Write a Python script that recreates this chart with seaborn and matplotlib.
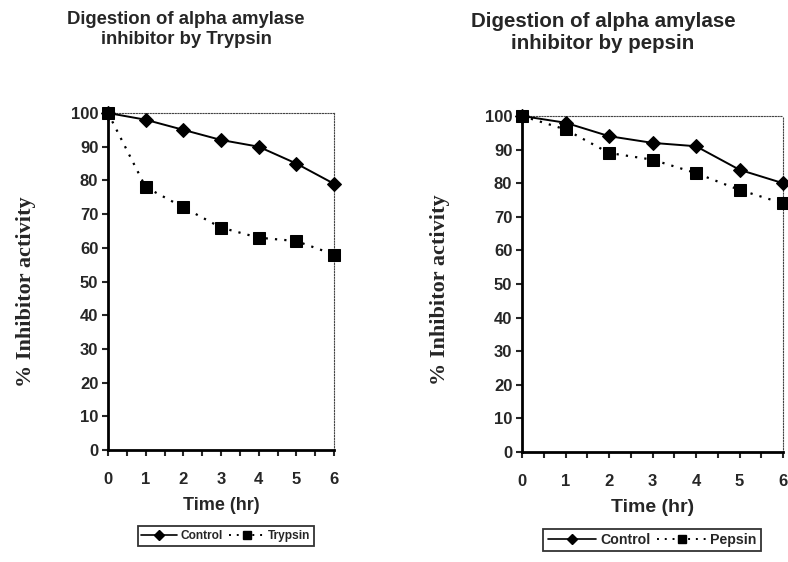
import matplotlib
matplotlib.use("Agg")
import matplotlib.pyplot as plt
import seaborn as sns
import pandas as pd
from matplotlib.ticker import MultipleLocator

sns.set_style("white")
plt.rcParams["font.family"] = ["Liberation Sans", "DejaVu Sans"]

time_hr = [0, 1, 2, 3, 4, 5, 6]

trypsin_control = [100, 98, 95, 92, 90, 85, 79]
trypsin_treated = [100, 78, 72, 66, 63, 62, 58]

pepsin_control = [100, 98, 94, 92, 91, 84, 80]
pepsin_treated = [100, 96, 89, 87, 83, 78, 74]

panels = [
    ("Digestion of alpha amylase\ninhibitor by Trypsin", "Trypsin", trypsin_control, trypsin_treated),
    ("Digestion of alpha amylase\ninhibitor by pepsin", "Pepsin", pepsin_control, pepsin_treated),
]

W, H = 788, 562
fig = plt.figure(figsize=(W / 100, H / 100), dpi=100)

# per-panel layout (pixel coordinates from the top-left corner)
layout = [
    dict(ax=(108, 113, 334, 450), title=(186, 11, 13.3), ylab=(26, 292, 16),
         tick=12, xlab=13, leg=(226, 536, 8.6, 3.0), sq=8.5, dm=7.5),
    dict(ax=(522, 116, 783, 452), title=(603, 12, 14.8), ylab=(440, 290, 16),
         tick=12, xlab=14, leg=(652, 540, 10.2, 3.4), sq=8.0, dm=7.5),
]

for (title, enzyme, ctrl, treated), L in zip(panels, layout):
    x0, y0, x1, y1 = L["ax"]
    ax = fig.add_axes([x0 / W, 1 - y1 / H, (x1 - x0) / W, (y1 - y0) / H])
    df = pd.DataFrame({
        "Time": time_hr * 2,
        "Activity": ctrl + treated,
        "Series": ["Control"] * len(time_hr) + [enzyme] * len(time_hr),
    })
    sns.lineplot(
        data=df[df["Series"] == "Control"], x="Time", y="Activity", ax=ax,
        marker="D", markersize=L["dm"], color="black", linewidth=1.4,
        markeredgecolor="black", legend=False, clip_on=False, zorder=3,
    )
    sns.lineplot(
        data=df[df["Series"] == enzyme], x="Time", y="Activity", ax=ax,
        marker="s", markersize=L["sq"], color="black", linewidth=1.6,
        linestyle=(0, (1, 3.2)), markeredgecolor="black", legend=False,
        clip_on=False, zorder=4,
    )
    ax.set_xlim(0, 6)
    ax.set_ylim(0, 100)
    ax.xaxis.set_major_locator(MultipleLocator(1))
    ax.xaxis.set_minor_locator(MultipleLocator(0.5))
    ax.yaxis.set_major_locator(MultipleLocator(10))
    ax.tick_params(axis="x", which="both", direction="out", length=4, width=1.5,
                   bottom=True, pad=12, labelsize=L["tick"])
    ax.tick_params(axis="y", which="major", direction="out", length=4, width=1.5,
                   left=True, labelsize=L["tick"], pad=3)
    for lab in ax.get_xticklabels() + ax.get_yticklabels():
        lab.set_fontweight("bold")
    for side in ("left", "bottom"):
        ax.spines[side].set_linewidth(2)
        ax.spines[side].set_color("black")
    for side in ("top", "right"):
        ax.spines[side].set_linewidth(0.8)
        ax.spines[side].set_linestyle((0, (1, 1.5)))
        ax.spines[side].set_color("#444444")
    ax.set_xlabel("Time (hr)", fontsize=L["xlab"], fontweight="bold", labelpad=7)
    ax.set_ylabel("")

    lx, ly, ls = L["ylab"]
    fig.text(lx / W, 1 - ly / H, "% Inhibitor activity", rotation=90,
             ha="center", va="center", fontsize=ls, fontweight="bold",
             family=["Liberation Serif", "DejaVu Serif"])
    tx, ty, ts = L["title"]
    fig.text(tx / W, 1 - ty / H, title, ha="center", va="top", fontsize=ts,
             fontweight="bold", linespacing=1.2)

    handles = [
        plt.Line2D([], [], color="black", linestyle="-", marker="D", markersize=5, linewidth=1.2),
        plt.Line2D([], [], color="black", linestyle=(0, (1, 3)), marker="s", markersize=5.5, linewidth=1.4),
    ]
    gx, gy, gs, hl = L["leg"]
    leg = fig.legend(handles, ["Control", enzyme], loc="center",
                     bbox_to_anchor=(gx / W, 1 - gy / H), ncol=2, frameon=True,
                     fancybox=False, edgecolor="black",
                     handlelength=hl, columnspacing=0.5, handletextpad=0.3,
                     borderpad=0.3, borderaxespad=0,
                     prop={"weight": "bold", "size": gs})
    leg.get_frame().set_linewidth(1.3)

fig.savefig("out.png", dpi=100)
